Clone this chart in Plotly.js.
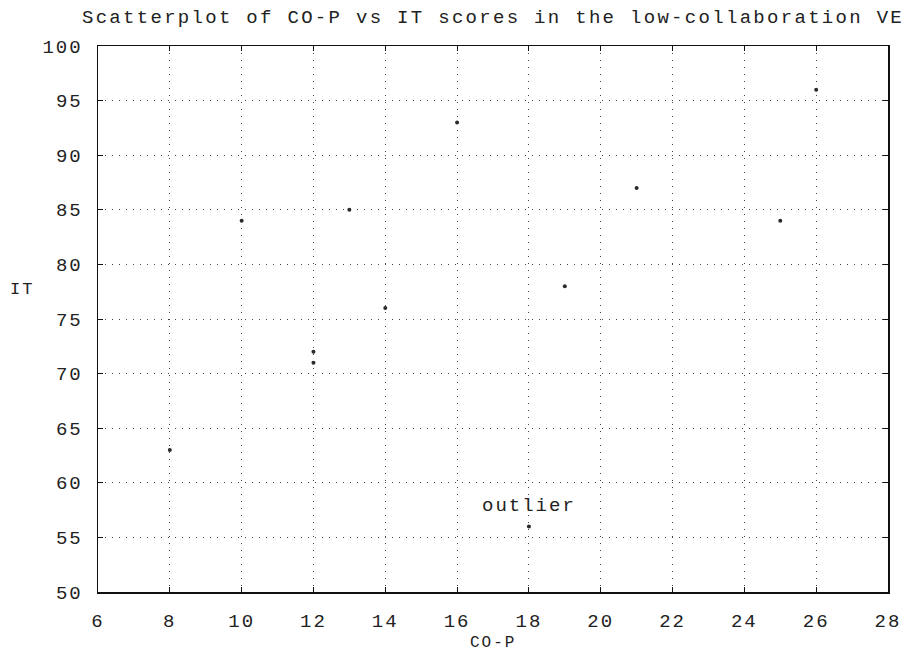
<!DOCTYPE html>
<html>
<head>
<meta charset="utf-8">
<script src="https://cdn.plot.ly/plotly-3.0.1.min.js"></script>
<style>
html, body { margin: 0; padding: 0; background: #fff; }
#chart { width: 905px; height: 653px; }
.main-svg text { letter-spacing: 2px; }
.main-svg text.gtitle { letter-spacing: 2.3px; }
</style>
</head>
<body>
<div id="chart"></div>
<script>
const coP = [8, 10, 12, 12, 13, 14, 16, 18, 19, 21, 25, 26];
const itScores = [63, 84, 72, 71, 85, 76, 93, 56, 78, 87, 84, 96];
const xTicks = [6, 8, 10, 12, 14, 16, 18, 20, 22, 24, 26, 28];
const yTicks = [50, 55, 60, 65, 70, 75, 80, 85, 90, 95, 100];

const FONT = 'Liberation Mono, DejaVu Sans Mono, monospace';

const trace = {
  x: coP,
  y: itScores,
  type: 'scatter',
  mode: 'markers',
  marker: { size: 4, color: '#2a2a2a' },
  hoverinfo: 'x+y'
};

const axisCommon = {
  showline: true,
  linecolor: '#111',
  linewidth: 1.5,
  mirror: 'ticks',
  ticks: 'inside',
  ticklen: 5,
  tickcolor: '#111',
  tickwidth: 1,
  showgrid: true,
  gridcolor: '#444',
  gridwidth: 1,
  griddash: '1px,6px',
  zeroline: false,
  tickfont: { family: FONT, size: 19, color: '#222' }
};

const layout = {
  width: 905,
  height: 653,
  margin: { l: 98, r: 17, t: 46, b: 61 },
  paper_bgcolor: '#fff',
  plot_bgcolor: '#fff',
  showlegend: false,
  font: { family: FONT, size: 19, color: '#222' },
  title: {
    text: 'Scatterplot of CO-P vs IT scores in the low-collaboration VE',
    font: { family: FONT, size: 19, color: '#222' },
    xref: 'paper', x: 0.5, xanchor: 'center',
    yref: 'container', y: 0.9755, yanchor: 'middle'
  },
  xaxis: Object.assign({}, axisCommon, {
    range: [6, 28],
    tickmode: 'array',
    tickvals: xTicks,
    ticktext: xTicks.map(String),
    ticklabelstandoff: 11
  }),
  yaxis: Object.assign({}, axisCommon, {
    range: [50, 100],
    tickmode: 'array',
    tickvals: yTicks,
    ticktext: yTicks.map(String),
    ticklabelstandoff: 10
  }),
  annotations: [
    {
      text: 'CO-P', xref: 'paper', yref: 'paper', x: 0.5, y: 0,
      xanchor: 'center', yanchor: 'middle', yshift: -51, showarrow: false,
      font: { family: FONT, size: 16, color: '#222' }
    },
    {
      text: 'IT', xref: 'paper', yref: 'paper', x: 0, y: 0.554,
      xanchor: 'center', yanchor: 'middle', xshift: -76, showarrow: false,
      font: { family: FONT, size: 17, color: '#222' }
    },
    {
      text: 'outlier', xref: 'x', yref: 'y', x: 18, y: 57.9,
      xanchor: 'center', yanchor: 'middle', showarrow: false,
      font: { family: FONT, size: 19, color: '#222' }
    }
  ]
};

Plotly.newPlot('chart', [trace], layout, { displayModeBar: false, staticPlot: true });
</script>
</body>
</html>
